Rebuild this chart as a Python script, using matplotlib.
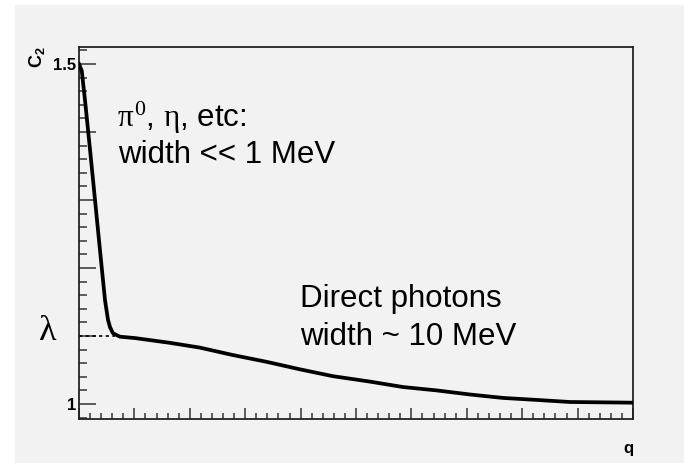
import matplotlib.pyplot as plt
from matplotlib.patches import Rectangle
from matplotlib.ticker import MultipleLocator, FuncFormatter

plt.rcParams['font.family'] = ['Liberation Sans', 'DejaVu Sans']
plt.rcParams['mathtext.fontset'] = 'custom'
plt.rcParams['mathtext.rm'] = 'Liberation Serif'
plt.rcParams['mathtext.it'] = 'Liberation Serif'
plt.rcParams['mathtext.bf'] = 'Liberation Sans:bold'

# correlation function C2(q), read point by point
q = [0.0, 0.05, 0.108, 0.199, 0.289, 0.379, 0.469, 0.523, 0.56, 0.614, 0.74,
     1.01, 1.28, 1.64, 2.18, 2.78, 3.39, 3.99, 4.58, 5.25, 5.85, 6.46, 7.06,
     7.65, 8.27, 8.86, 9.46, 9.98]
c2 = [1.500, 1.490, 1.447, 1.374, 1.300, 1.226, 1.153, 1.124, 1.113, 1.104, 1.099,
      1.097, 1.094, 1.090, 1.083, 1.072, 1.062, 1.051, 1.041, 1.033, 1.025, 1.020, 1.014,
      1.009, 1.006, 1.003, 1.0025, 1.002]
lam = 1.10
lam_q = [0.0, 0.65]
ylabels = {1.0: '1', 1.5: '1.5'}

W, H = 684, 463
bg = '#f2f2f2'

def px(x, y):
    return x / W, 1 - y / H

fig = plt.figure(figsize=(W / 100, H / 100), dpi=100, facecolor='white')
fig.patches.append(Rectangle((15 / W, 0), 1 - 15 / W, 1 - 5 / H,
                             transform=fig.transFigure, color=bg, zorder=-10))

ax = fig.add_axes([79 / W, 1 - 419 / H, (633 - 79) / W, (419 - 47) / H])
ax.set_facecolor(bg)

ax.plot(q, c2, color='black', lw=2.7, solid_joinstyle='round', zorder=3)
ax.plot(lam_q, [lam, lam], color='black', lw=1.2, ls=(0, (2, 2)), zorder=2)

ax.set_xlim(0, 10)
ax.set_ylim(0.978, 1.525)

ax.xaxis.set_major_locator(MultipleLocator(1))
ax.xaxis.set_minor_locator(MultipleLocator(0.2))
ax.yaxis.set_major_locator(MultipleLocator(0.1))
ax.yaxis.set_minor_locator(MultipleLocator(0.02))
ax.xaxis.set_major_formatter(FuncFormatter(lambda v, p: ''))
ax.yaxis.set_major_formatter(FuncFormatter(
    lambda v, p: ylabels.get(round(v, 2), '')))

ax.tick_params(axis='x', which='major', direction='in', length=8, width=1.1, color='#333333')
ax.tick_params(axis='x', which='minor', direction='in', length=4.3, width=1.1, color='#333333')
ax.tick_params(axis='y', which='major', direction='in', length=12.5, width=1.1,
               color='#333333', pad=2, labelsize=12)
ax.tick_params(axis='y', which='minor', direction='in', length=6, width=1.1, color='#333333')
for lab in ax.get_yticklabels():
    lab.set_fontweight('bold')

for s in ax.spines.values():
    s.set_linewidth(1.3)
    s.set_color('#222222')

# axis titles, ROOT style
fig.text(*px(37, 57), r'$\mathbf{C_2}$', rotation=90, ha='center', va='center', fontsize=13)
fig.text(*px(633, 448), 'q', ha='right', va='center', fontsize=12, fontweight='bold')
fig.text(*px(48, 332), 'λ', ha='center', va='center', fontsize=26,
         family=['Liberation Serif', 'DejaVu Serif'])

fig.text(*px(117, 127), r'$\pi^0$, $\eta$, etc:', ha='left', va='baseline', fontsize=22.5)
fig.text(*px(118, 163), 'width << 1 MeV', ha='left', va='baseline', fontsize=22.5)
fig.text(*px(300, 307), 'Direct photons', ha='left', va='baseline', fontsize=22.5)
fig.text(*px(300, 345), 'width ~ 10 MeV', ha='left', va='baseline', fontsize=22.5)

fig.savefig('out.png', dpi=100, facecolor='white')
